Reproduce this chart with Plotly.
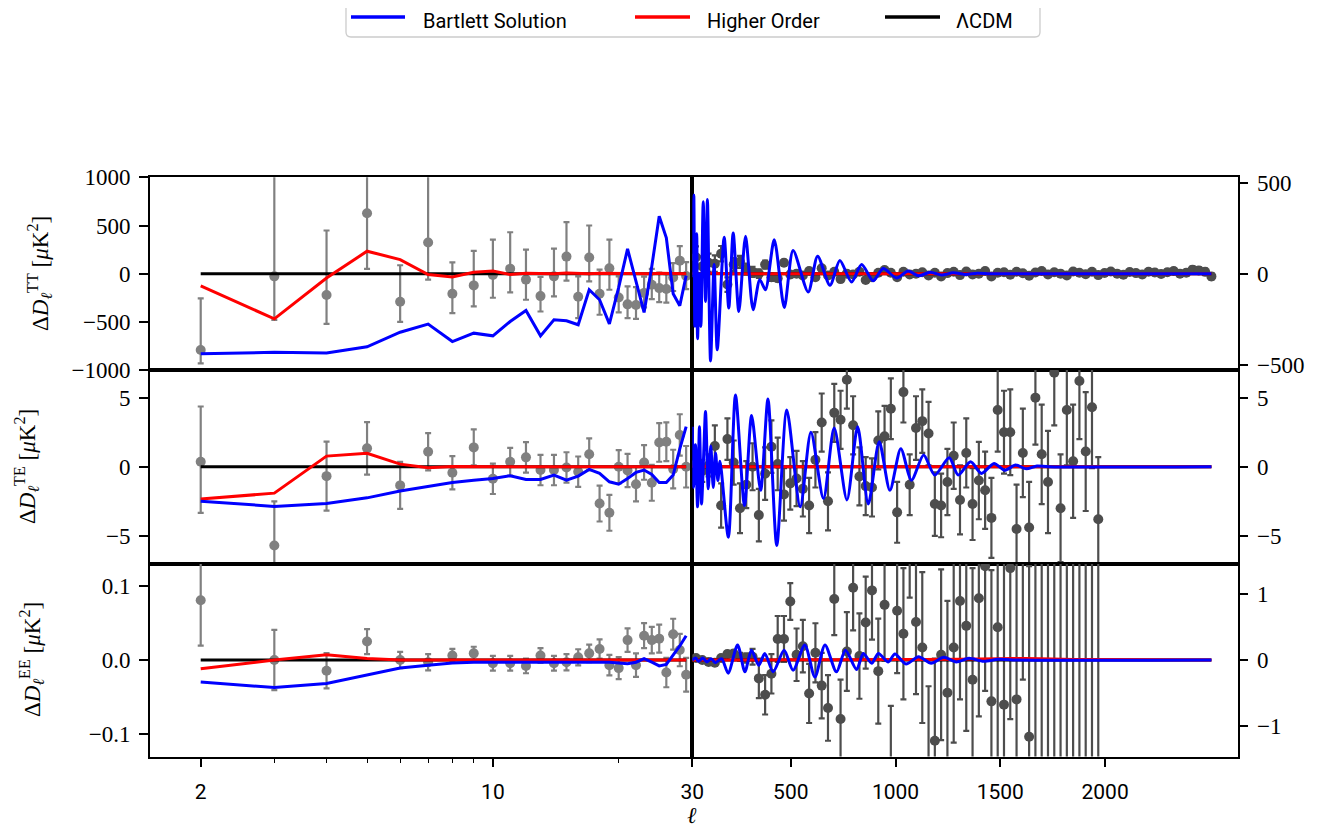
import plotly.graph_objects as go

# canvas: the page body adds an 8 px offset, so the figure is 8 px smaller
OFF = 8
W, H = 1343 - OFF, 829 - OFF

# ---------------- data ----------------
ell_lo = [2, 3, 4, 5, 6, 7, 8, 9, 10, 11, 12, 13, 14, 15, 16, 17, 18, 19, 20, 21,
          22, 23, 24, 25, 26, 27, 28, 29]

tt_lo = [-792, -28, -222, 628, -292, 323, -208, -122, -14, 52, -62, -233, -28, 177,
         -240, 167, -208, 56, -247, -319, -326, -200, -115, -150, -160, -40, 135, -25]
tt_lo_up = [535, 1100, 670, 900, 379, 900, 326, 358, 368, 378, 312, 200, 288, 358,
            212, 333, 250, 298, 219, 187, 187, 170, 165, 160, 155, 150, 150, 145]
tt_lo_dn = [139, 451, 299, 579, 208, 385, 202, 218, 236, 246, 209, 160, 208, 250,
            222, 247, 219, 223, 156, 143, 143, 150, 150, 145, 140, 140, 135, 135]

te_lo = [0.36, -5.7, -0.68, 1.33, -1.35, 1.09, -0.43, 1.4, -0.87, 0.36, 0.68, -0.24,
         -0.24, -0.05, -0.36, 0.9, -2.66, -3.33, 0.0, -0.27, -1.26, 0.31, -1.16, 1.76,
         1.81, -0.17, 2.3, 0.0]
te_lo_up = [4.0, 3.2, 2.5, 1.9, 1.7, 1.35, 1.2, 1.3, 1.1, 1.0, 1.1, 1.1, 1.1, 1.1,
            1.1, 1.15, 1.3, 1.3, 1.2, 1.2, 1.25, 1.25, 1.3, 1.4, 1.4, 1.4, 1.5, 1.5]
te_lo_dn = [3.7, 3.2, 2.5, 1.9, 1.7, 1.35, 1.2, 1.3, 1.1, 1.0, 1.1, 1.1, 1.1, 1.1,
            1.1, 1.15, 1.3, 1.3, 1.2, 1.2, 1.25, 1.25, 1.3, 1.4, 1.4, 1.4, 1.5, 1.5]

ee_lo = [0.081, 0.0, -0.0145, 0.025, 0.0, -0.003, 0.006, 0.009, -0.0045, -0.0045,
         -0.008, 0.006, -0.0045, -0.003, 0.0036, 0.009, 0.015, -0.007, -0.011, 0.027,
         -0.007, 0.033, 0.027, 0.029, -0.017, 0.035, 0.0135, -0.02]
ee_lo_up = [0.07, 0.041, 0.024, 0.017, 0.011, 0.011, 0.009, 0.009, 0.01, 0.01, 0.01,
            0.01, 0.01, 0.011, 0.011, 0.012, 0.013, 0.014, 0.015, 0.016, 0.016, 0.017,
            0.018, 0.019, 0.02, 0.021, 0.022, 0.023]
ee_lo_dn = [0.0615, 0.041, 0.024, 0.017, 0.011, 0.011, 0.009, 0.009, 0.01, 0.01, 0.01,
            0.01, 0.01, 0.011, 0.011, 0.012, 0.013, 0.014, 0.015, 0.016, 0.016, 0.017,
            0.018, 0.019, 0.02, 0.021, 0.022, 0.023]

# model curves, low ell
tt_red_lo = [-128, -469, -45, 233, 146, -10, -35, 14, 28, -10, 5, 3, 0, 8, 2, 0, 5, 3,
             4, 2, 3, 2, 0, 3, 2, 1, 2, 0]
tt_blue_lo = [-833, -816, -823, -760, -608, -524, -705, -618, -646, -497, -382, -646,
              -479, -490, -531, -167, -271, -521, -142, 257, -80, -403, 76, 597, 372,
              -208, -333, -21]
te_red_lo = [-2.34, -1.91, 0.77, 0.97, 0.19, -0.07, 0.02, 0.0, 0.0, 0.0, 0.0, 0.0, 0.0,
             0.0, 0.0, 0.0, 0.0, 0.0, 0.0, 0.0, 0.0, 0.0, 0.0, 0.0, 0.0, 0.0, 0.0, 0.0]
te_blue_lo = [-2.49, -2.87, -2.66, -2.25, -1.76, -1.45, -1.14, -0.97, -0.85, -0.65,
              -0.92, -0.92, -0.6, -0.97, -0.68, -0.19, -0.48, -1.09, -1.26, -0.85,
              -0.41, -0.24, -0.56, -1.14, -1.14, -0.6, 1.3, 2.9]
ee_red_lo = [-0.012, 0.0, 0.007, 0.002, 0.0, 0.0, 0.0, 0.0, 0.0, 0.0, 0.0, 0.0, 0.0,
             0.0, 0.0, 0.0, 0.0, 0.0, 0.0, 0.0, 0.0, 0.0, 0.0, 0.0, 0.0, 0.0, 0.0, 0.0]
ee_blue_lo = [-0.030, -0.0375, -0.032, -0.021, -0.011, -0.007, -0.004, -0.003, -0.003,
              -0.003, -0.003, -0.003, -0.003, -0.003, -0.002, -0.002, -0.002, -0.003,
              -0.004, -0.005, -0.003, 0.002, -0.003, -0.008, -0.006, 0.007, 0.019, 0.033]

# binned high-ell data
ell_hi = [47.5, 77.5, 107.5, 137.5, 167.5, 197.5, 227.5, 257.5, 287.5, 317.5, 347.5,
          377.5, 407.5, 437.5, 467.5, 497.5, 527.5, 557.5, 587.5, 617.5, 647.5, 677.5,
          707.5, 737.5, 767.5, 797.5, 827.5, 857.5, 887.5, 917.5, 947.5, 977.5, 1007.5,
          1037.5, 1067.5, 1097.5, 1127.5, 1157.5, 1187.5, 1217.5, 1247.5, 1277.5,
          1307.5, 1337.5, 1367.5, 1397.5, 1427.5, 1457.5, 1487.5, 1517.5, 1547.5,
          1577.5, 1607.5, 1637.5, 1667.5, 1697.5, 1727.5, 1757.5, 1787.5, 1817.5,
          1847.5, 1877.5, 1907.5, 1937.5, 1967.5, 1997.5, 2027.5, 2057.5, 2087.5,
          2117.5, 2147.5, 2177.5, 2207.5, 2237.5, 2267.5, 2297.5, 2327.5, 2357.5,
          2387.5, 2417.5, 2447.5, 2477.5, 2507.5]
ell_hi_pol = ell_hi[:65]

tt_hi = [90, 40, 60, 55, 110, -60, 50, 65, 25, 10,
         0, 50, -20, -25, 60, -5, 0, -10, 15, -20,
         30, -10, 10, -30, 0, -5, 10, -35, -20, 5,
         20, 5, -20, 10, -5, 0, 8, -10, 5, -15,
         3, 10, -8, 12, -5, 0, 15, -15, 5, 8,
         -6, 10, 2, -12, 6, 15, -4, 8, 0, -10,
         12, 5, -3, 10, -8, 4, 12, 0, -6, 9,
         3, -5, 10, 6, -2, 8, 14, 0, 5, 22,
         18, 10, -15]
tt_hi_err = [60, 55, 50, 45, 42, 40, 36, 33, 30, 28,
             24, 22, 20, 18, 16, 15, 14, 13, 12, 12,
             11, 11, 10, 10, 10, 10, 10, 10, 10, 10,
             10, 10, 10, 10, 10, 10, 10, 10, 10, 10,
             10, 10, 10, 10, 10, 10, 10, 10, 10, 10,
             10, 10, 10, 10, 10, 10, 11, 11, 11, 11,
             11, 11, 12, 12, 12, 12, 13, 13, 13, 13,
             14, 14, 14, 15, 15, 15, 16, 16, 16, 17,
             17, 18, 18]

te_hi = [0.2, -0.3, 0.1, 1.5, -2.8, 2.0, 0.3, -3.0, -1.3, 0.0,
         -3.5, -0.5, 1.45, 0.2, -2.0, -1.2, -0.85, -1.6, -2.8, 0.5,
         3.2, -2.5, 3.9, 3.4, 6.3, 3.0, -0.7, -1.4, -1.5, 1.9,
         2.2, 4.2, -3.3, 5.4, -1.3, 2.8, 3.3, 2.4, -2.7, -2.8,
         -1.1, 0.8, -2.4, 1.0, -2.7, -1.0, -1.7, -3.7, 4.1, 2.5,
         2.5, -4.5, 1.0, -4.4, 5.0, 0.9, -1.1, 6.8, -3.0, 4.1,
         0.4, 6.2, 1.1, 4.3, -3.8]
te_hi_err = [0.8, 0.8, 0.8, 1.5, 1.6, 1.5, 1.6, 1.8, 1.7, 1.7,
             1.9, 1.9, 1.9, 1.9, 1.9, 1.9, 2.0, 2.0, 2.0, 2.0,
             2.1, 2.1, 2.1, 2.1, 2.1, 2.1, 2.1, 2.1, 2.1, 2.1,
             2.2, 2.2, 2.2, 2.2, 2.2, 2.3, 2.3, 2.3, 2.3, 2.3,
             2.4, 2.4, 2.5, 2.5, 2.6, 2.8, 2.8, 2.9, 3.0, 3.0,
             3.1, 3.2, 3.2, 3.3, 3.4, 3.6, 3.7, 3.8, 3.9, 4.0,
             4.1, 4.2, 4.3, 4.4, 4.5]

ee_hi = [0.03, 0.0, -0.03, -0.04, 0.03, 0.09, 0.10, 0.05, 0.03, 0.05,
         -0.28, -0.53, -0.21, 0.32, 0.32, 0.89, 0.08, 0.21, -0.51, 0.11,
         -0.39, -0.73, 0.93, -0.9, 0.13, 1.1, 0.06, 0.57, 1.06, -0.17,
         0.84, -1.6, 0.75, 0.4, 2.0, 0.58, 0.19, -1.6, -1.23, 0.08,
         -0.5, 0.19, 0.9, 0.52, -0.3, 0.94, 1.43, -0.63, 0.5, -0.68,
         1.4, -0.6, 2.2, -1.17, 2.4, -2.6, 2.8, -2.3, 3.0, -2.7,
         2.5, -3.1, 2.9, -2.6, 3.2]
ee_hi_err = [0.03, 0.03, 0.03, 0.03, 0.04, 0.04, 0.05, 0.06, 0.07, 0.12,
             0.3, 0.3, 0.3, 0.35, 0.35, 0.28, 0.4, 0.4, 0.45, 0.45,
             0.5, 0.5, 0.55, 0.6, 0.6, 0.65, 0.65, 0.7, 0.75, 0.8,
             0.85, 0.9, 0.95, 1.0, 1.05, 1.1, 1.15, 1.2, 1.25, 1.3,
             1.4, 1.45, 1.5, 1.6, 1.7, 1.8, 1.9, 2.0, 2.1, 2.2,
             2.3, 2.4, 2.5, 2.6, 4.2, 4.4, 4.6, 4.3, 4.8, 4.5,
             4.4, 5.0, 4.8, 4.6, 5.2]

# model curves, high ell (sampled at extrema)
tt_blue_hi_ell = [30, 37, 42, 51, 55, 64, 71, 82, 93, 102, 117, 134, 149, 182, 204, 225,
                  252, 284, 320, 352, 379, 421, 469, 511, 583, 628, 687, 734, 790, 838,
                  893, 941, 1005, 1060, 1110, 1165, 1220, 1275, 1330, 1390, 1450, 1520,
                  2507.5]
tt_blue_hi = [-20, 432, -290, 219, -358, 0, -290, 395, -153, 408, -480, 50, -419, 200,
              -189, 224, -208, 206, -198, -33, -88, 187, -186, 127, -101, 96, -64, 72,
              -46, 50, -39, 28, -24, 15, -12, 8, -8, 5, -4, 2, -1, 0, 0]

te_blue_hi_ell = [30, 36, 45, 55, 64, 74, 84, 93, 106, 118, 130, 141, 152, 162, 202,
                  236, 279, 313, 356, 391, 433, 481, 545, 596, 656, 707, 768, 819, 870,
                  922, 973, 1025, 1076, 1134, 1187, 1256, 1299, 1358, 1410, 1470, 1521,
                  1573, 1624, 1675, 1730, 2507.5]
te_blue_hi = [2.9, -1.5, 1.6, -2.9, 2.9, -2.7, 0.8, 4.0, -1.6, 1.5, -1.5, 1.0, -1.0,
              0.4, -5.1, 5.2, -2.8, 3.7, -1.7, 4.9, -5.7, 4.1, -2.9, 2.5, -2.3, 2.8,
              -2.4, 2.9, -2.7, 1.8, -1.7, 1.3, -0.97, 0.85, -0.6, 0.65, -0.6, 0.36,
              -0.48, 0.24, -0.25, 0.12, -0.15, 0.06, 0, 0]

ee_blue_hi_ell = [30, 45, 60, 80, 100, 120, 140, 170, 201, 246, 281, 312, 347, 376, 416,
                  468, 511, 567, 615, 663, 718, 761, 814, 846, 886, 918, 965, 997, 1050,
                  1110, 1170, 1230, 1290, 1350, 1420, 1490, 1560, 2507.5]
ee_blue_hi = [0.0, 0.03, -0.02, 0.03, -0.03, 0.02, -0.04, 0.02, -0.20, 0.23, -0.18,
              0.15, -0.08, 0.10, -0.18, 0.15, -0.155, 0.23, -0.26, 0.23, -0.18, 0.15,
              -0.145, 0.10, -0.05, 0.10, -0.03, 0.09, -0.06, 0.05, -0.05, 0.04, -0.03,
              0.025, -0.02, 0.01, 0, 0]

red_hi_ell = [30, 60, 100, 200, 400, 800, 1200, 1500, 1800, 2507.5]
tt_red_hi = [4, -3, 2, 0, 0, 0, 0, 0, 0, 0]
te_red_hi = [0.05, -0.05, 0.03, 0, 0, 0, 0, 0, 0, 0]
ee_red_hi_ell = [30, 500, 1000, 1300, 1500, 1620, 1750, 1900, 2507.5]
ee_red_hi = [0, 0.002, 0.006, 0.012, 0.02, 0.022, 0.015, 0.006, 0]

lcdm_lo_ell = [2, 29]
lcdm_hi_ell = [30, 2507.5]
lcdm_zero = [0, 0]


# ---------------- layout helpers (reference pixel -> paper) ----------------
def fx(px):
    return (px - OFF) / W


def fy(py):
    return 1 - (py - OFF) / H


XL = [fx(150), fx(692.3)]
XR = [fx(692.3), fx(1237.5)]
ROWS = [[fy(370), fy(177.3)], [fy(563.5), fy(370)], [fy(756.5), fy(563.5)]]

SERIF = "Liberation Serif, Times New Roman, serif"
SANS = "Roboto, Arial, sans-serif"
GREY_LO = "#808080"
GREY_HI = "#4d4d4d"

fig = go.Figure()


def ax(n):
    return ("x" if n == 1 else f"x{n}"), ("y" if n == 1 else f"y{n}")


def add_points(n, x, y, up, dn, color):
    xa, ya = ax(n)
    fig.add_trace(go.Scatter(
        x=x, y=y, mode="markers", xaxis=xa, yaxis=ya, showlegend=False,
        marker=dict(color=color, size=10, line=dict(width=0)),
        error_y=dict(type="data", symmetric=False, array=up, arrayminus=dn,
                     color=color, thickness=2.2, width=3),
        hoverinfo="skip"))


def add_line(n, x, y, color, shape="linear"):
    xa, ya = ax(n)
    fig.add_trace(go.Scatter(
        x=x, y=y, mode="lines", xaxis=xa, yaxis=ya, showlegend=False,
        line=dict(color=color, width=3, shape=shape, smoothing=0.75),
        hoverinfo="skip"))


panels = [
    (1, 2, (tt_lo, tt_lo_up, tt_lo_dn), (ell_hi, tt_hi, tt_hi_err),
     (tt_red_lo, tt_blue_lo), (red_hi_ell, tt_red_hi), (tt_blue_hi_ell, tt_blue_hi)),
    (3, 4, (te_lo, te_lo_up, te_lo_dn), (ell_hi_pol, te_hi, te_hi_err),
     (te_red_lo, te_blue_lo), (red_hi_ell, te_red_hi), (te_blue_hi_ell, te_blue_hi)),
    (5, 6, (ee_lo, ee_lo_up, ee_lo_dn), (ell_hi_pol, ee_hi, ee_hi_err),
     (ee_red_lo, ee_blue_lo), (ee_red_hi_ell, ee_red_hi), (ee_blue_hi_ell, ee_blue_hi)),
]

for nl, nr, lo, hi, mlo, red_hi, blue_hi in panels:
    add_points(nl, ell_lo, lo[0], lo[1], lo[2], GREY_LO)
    add_points(nr, hi[0], hi[1], hi[2], hi[2], GREY_HI)
    add_line(nl, lcdm_lo_ell, lcdm_zero, "black")
    add_line(nr, lcdm_hi_ell, lcdm_zero, "black")
    add_line(nl, ell_lo, mlo[0], "red")
    add_line(nr, red_hi[0], red_hi[1], "red", shape="spline")
    add_line(nl, ell_lo, mlo[1], "blue")
    add_line(nr, blue_hi[0], blue_hi[1], "blue", shape="spline")

frame = dict(showgrid=False, zeroline=False, showline=True, mirror=True,
             linecolor="black", linewidth=1.8, automargin=False)
ytick_font = dict(family=SERIF, size=23, color="black")
xtick_font = dict(family=SANS, size=21, color="black")

yspecs = [
    ([-1000.5, 1000.5], [-1000, -500, 0, 500, 1000], "d", [-530, 530], [-500, 0, 500]),
    ([-7.0, 7.0], [-5, 0, 5], "d", [-7.0, 7.0], [-5, 0, 5]),
    ([-0.131, 0.131], [-0.1, 0.0, 0.1], ".1f", [-1.47, 1.47], [-1, 0, 1]),
]

layout = dict(width=W, height=H, autosize=False,
              margin=dict(l=0, r=0, t=0, b=0, pad=0, autoexpand=False),
              paper_bgcolor="white", plot_bgcolor="white", showlegend=False)

for r in range(3):
    nl, nr = 2 * r + 1, 2 * r + 2
    bottom = (r == 2)
    kl = "xaxis" if nl == 1 else f"xaxis{nl}"
    kr = f"xaxis{nr}"
    ykl = "yaxis" if nl == 1 else f"yaxis{nl}"
    ykr = f"yaxis{nr}"
    xl = dict(frame, domain=XL, anchor=ax(nl)[1], type="log", range=[0.1797, 1.4771],
              showticklabels=False, ticks="")
    xr = dict(frame, domain=XR, anchor=ax(nr)[1], range=[29.9, 2632],
              showticklabels=False, ticks="")
    if bottom:
        xl.update(showticklabels=True, ticks="outside", ticklen=9, tickwidth=1.8,
                  tickcolor="black", tickmode="array", tickvals=[2, 10],
                  ticktext=["2", "10"], tickfont=xtick_font, ticklabelstandoff=6,
                  minor=dict(tickmode="array", tickvals=[3, 4, 5, 6, 7, 8, 9, 20],
                             ticks="outside", ticklen=5, tickwidth=1.4,
                             tickcolor="black", showgrid=False))
        xr.update(showticklabels=True, ticks="outside", ticklen=9, tickwidth=1.8,
                  tickcolor="black", tickmode="array",
                  tickvals=[30, 500, 1000, 1500, 2000],
                  ticktext=["30", "500", "1000", "1500", "2000"],
                  tickfont=xtick_font, ticklabelstandoff=6)
    layout[kl] = xl
    layout[kr] = xr
    lr, lt, lf, rr, rt = yspecs[r]
    layout[ykl] = dict(frame, domain=ROWS[r], anchor=ax(nl)[0], range=lr,
                       tickmode="array", tickvals=lt, tickformat=lf, ticks="outside",
                       ticklen=9, tickwidth=1.8, tickcolor="black", tickfont=ytick_font,
                       ticklabelstandoff=4)
    layout[ykr] = dict(frame, domain=ROWS[r], anchor=ax(nr)[0], range=rr, side="right",
                       tickmode="array", tickvals=rt, tickformat="d", ticks="outside",
                       ticklen=9, tickwidth=1.8, tickcolor="black", tickfont=ytick_font,
                       ticklabelstandoff=4)

fig.update_layout(**layout)

# ---------------- annotations: axis titles ----------------
ytitles = [
    ("Δ<i>D</i><sub><i>ℓ</i></sub><sup>TT</sup> [<i>μ</i>K<sup>2</sup>]", 39, 273),
    ("Δ<i>D</i><sub><i>ℓ</i></sub><sup>TE</sup> [<i>μ</i>K<sup>2</sup>]", 26, 467),
    ("Δ<i>D</i><sub><i>ℓ</i></sub><sup>EE</sup> [<i>μ</i>K<sup>2</sup>]", 31, 660),
]
for text, px, py in ytitles:
    fig.add_annotation(text=text, x=fx(px), y=fy(py), xref="paper", yref="paper",
                       xanchor="center", yanchor="middle", textangle=-90,
                       showarrow=False, borderpad=0,
                       font=dict(family=SERIF, size=23, color="black"))

fig.add_annotation(text="<i>ℓ</i>", x=fx(692), y=fy(815), xref="paper", yref="paper",
                   xanchor="center", yanchor="middle", showarrow=False, borderpad=0,
                   font=dict(family=SERIF, size=23, color="black"))

# ---------------- manual legend ----------------
lx0, lx1, ly0, ly1, rad = 346, 1040, -4, 37, 5
path = (f"M {fx(lx0)},{fy(ly0)} L {fx(lx0)},{fy(ly1 - rad)} "
        f"Q {fx(lx0)},{fy(ly1)} {fx(lx0 + rad)},{fy(ly1)} "
        f"L {fx(lx1 - rad)},{fy(ly1)} Q {fx(lx1)},{fy(ly1)} {fx(lx1)},{fy(ly1 - rad)} "
        f"L {fx(lx1)},{fy(ly0)} Z")
fig.add_shape(type="path", path=path, xref="paper", yref="paper",
              line=dict(color="#cccccc", width=1.3), fillcolor="rgba(255,255,255,0.8)")

legend_items = [("Bartlett Solution", "blue", 351, 405, 422),
                ("Higher Order", "red", 635, 690, 706),
                ("ΛCDM", "black", 885, 940, 955)]
for label, color, a, b, t in legend_items:
    fig.add_shape(type="line", x0=fx(a), x1=fx(b), y0=fy(17), y1=fy(17),
                  xref="paper", yref="paper", line=dict(color=color, width=3.5))
    fig.add_annotation(text=label, x=fx(t), y=fy(21), xref="paper", yref="paper",
                       xanchor="left", yanchor="middle", showarrow=False, borderpad=0,
                       font=dict(family=SANS, size=20, color="black"))

fig.write_html("out.html")
